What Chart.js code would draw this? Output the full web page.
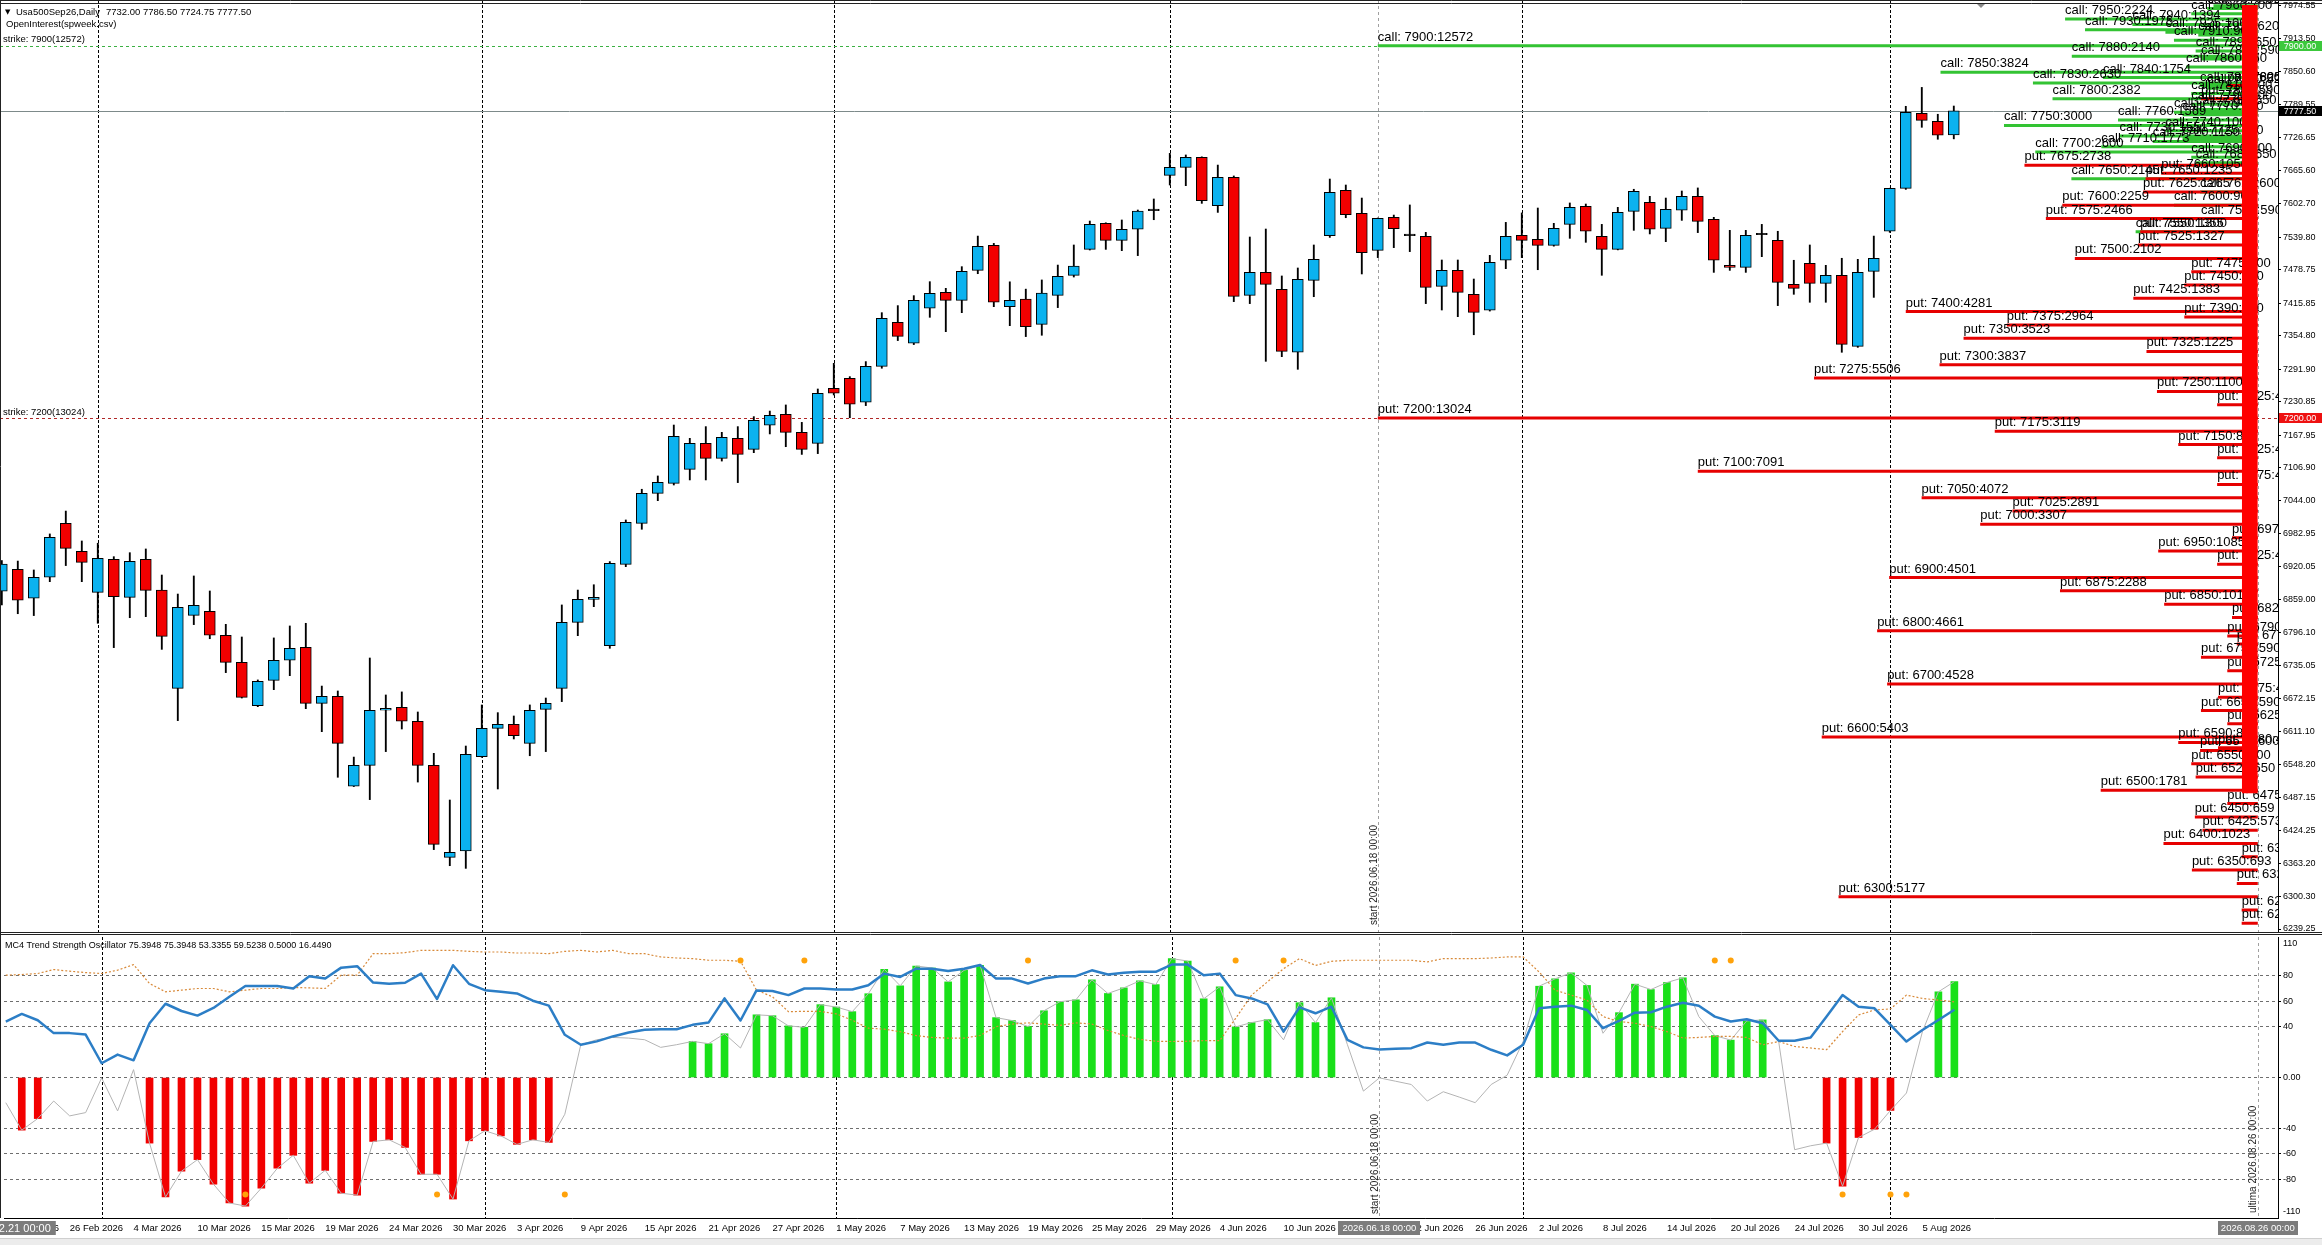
<!DOCTYPE html>
<html>
<head>
<meta charset="utf-8">
<title>Usa500Sep26 Daily - OpenInterest</title>
<script src="https://cdn.jsdelivr.net/npm/chart.js@4.4.1/dist/chart.umd.min.js"></script>
<style>
  html, body { margin:0; padding:0; background:#fff; }
  body { width:2322px; height:1245px; position:relative; overflow:hidden; }
  canvas { position:absolute; left:0; }
  #mainC { top:0; }
  #oscC { top:933px; }
  #strip { position:absolute; left:0; top:1238px; width:2322px; height:7px; background:#ececec; border-top:1px solid #cfcfcf; }
</style>
</head>
<body>
<canvas id="mainC" width="2322" height="933"></canvas>
<canvas id="oscC" width="2322" height="305"></canvas>
<div id="strip"></div>
<script>
// ---------------- DATA ----------------
const symbolName = 'Usa500Sep26,Daily';
const indicatorName = 'OpenInterest(spweek.csv)';
const oscName = 'MC4 Trend Strength Oscillator';

const opens = [6874.5,6915.5,6861,6900.5,7002,6949.25,6872.25,6934.25,6862.75,6934.25,
6876.5,6691.75,6829,6836.5,6791.5,6740.5,6659.25,6706.75,6744.5,6768.75,
6663.5,6676.75,6508,6547,6650.5,6656,6629.75,6547,6374,6386,
6563.25,6616.5,6624,6588.25,6652.25,6691.75,6815.75,6859,6772,6924.75,
7002,7058.25,7077,7103.5,7152.25,7124,7161.75,7141,7186.25,7207,
7173,7152.25,7255.75,7274.5,7229.5,7297,7379.75,7340.5,7406.25,7436.25,
7421.25,7477.5,7524.5,7409.25,7423.5,7376,7430.5,7468.25,7517,7566,
7534,7554.75,7589.75,7656.25,7671.25,7690,7599.25,7652.5,7430.5,7473.75,
7442,7323.5,7458.75,7542.75,7628,7584.75,7515.25,7577.25,7542.75,7541.5,
7447.5,7477.5,7432.5,7402.5,7496.5,7543.5,7536,7524.5,7564,7598,
7541.5,7517,7588.5,7605.5,7556.5,7590.5,7616.75,7573.5,7487,7483.25,
7544.5,7534,7451.25,7490.75,7453,7468.25,7334.75,7475.75,7551,7631.75,
7772.75,7757.75,7732];
const highs = [6932,6931,6914.25,6982,7025,6968.75,6964.5,6939.25,6946.75,6953.75,
6904.75,6869,6903,6874.75,6812,6788.25,6707.5,6786.5,6809,6814,
6696,6686.75,6562.5,6748.75,6679.25,6685,6647.25,6569.5,6481.75,6583.25,
6660.5,6646,6639.75,6660.5,6673.5,6848.5,6876.5,6886.5,6930,7008.25,
7066,7091,7186.75,7161.75,7183.75,7173,7183.75,7202.5,7213,7224.5,
7191.75,7254.5,7302.75,7277.75,7306,7398,7411.25,7430,7456.25,7443.75,
7484.5,7542,7528.25,7456,7442.25,7459.5,7487.5,7525.25,7570.25,7567,
7572.25,7591,7611.75,7697.5,7694.5,7691,7675.5,7655,7540.25,7555.25,
7467,7482,7525.25,7649.25,7638,7613.5,7576,7581.5,7600.5,7549,
7497,7497,7461.25,7505.75,7567.75,7585.5,7594.75,7566,7604.25,7602.25,
7564,7596,7630,7616.75,7613.5,7626.75,7632.5,7577.25,7552.75,7552.75,
7564,7551,7496.5,7525.25,7487,7500.25,7498.25,7542,7632,7786,
7821.5,7771,7786.5];
const lows = [6848.5,6832,6828.5,6892.25,6922.5,6892.25,6814,6768.25,6824.5,6826.5,
6765,6631,6811.5,6785,6721.25,6673.5,6657.25,6689.25,6715.5,6653.5,
6610.25,6524.5,6507,6482.5,6572.75,6615.25,6515.5,6388.5,6358.25,6353.25,
6562,6502.5,6596.5,6565,6572.75,6666.75,6790.75,6845.25,6767,6920.5,
6990.75,7044.5,7074,7083.5,7083.5,7119,7078.5,7134.75,7170,7146,
7131.5,7133,7243.25,7200.5,7223.25,7293.5,7345.5,7338,7389.25,7362.25,
7398,7471.25,7409.25,7373.5,7353,7355.5,7407.5,7465,7515.75,7517,
7514.5,7505.25,7572.75,7638,7636.75,7603.5,7586.5,7418.75,7415,7306.5,
7315.25,7291.5,7428,7539.5,7576.5,7470.75,7501.5,7520.25,7512.75,7415,
7403,7390.5,7356.5,7401,7480.75,7501.5,7478.75,7523,7537.75,7530.25,
7468.25,7516,7552.75,7546,7531.5,7571.5,7548.5,7473.75,7477.5,7473.75,
7503.25,7411.25,7432.5,7417.5,7417.5,7323.5,7332.75,7426.75,7549,7629.75,
7746.5,7724,7724.75];
const closes = [6925.5,6857.25,6900.5,6975.5,6955,6928.5,6936,6864,6930.5,6876,
6789.5,6844,6847.75,6791.5,6740.5,6674.75,6705,6744.5,6767,6663.5,
6676.75,6588.25,6547,6650.5,6654,6629.75,6547,6398.5,6383.5,6567.5,
6616.5,6624,6602.75,6650.5,6663.5,6815.75,6859,6862.75,6926.75,7003.75,
7058.25,7079,7165.5,7152.25,7124,7163.5,7131.5,7195.5,7205,7173,
7141,7246.5,7246.5,7225.75,7297,7387.5,7353.5,7421.25,7434.5,7421.25,
7475.75,7522.75,7417.5,7421.25,7371.75,7434.75,7466.25,7485.75,7564,7534,
7554.75,7589,7589.75,7671.25,7690,7608.5,7652.5,7428.75,7473.75,7451.25,
7325.25,7460.75,7498.25,7624.25,7582.25,7510.75,7575.5,7556,7542.75,7445.5,
7477.5,7436.25,7398.5,7492.5,7541.5,7534,7524.5,7556.5,7596,7551,
7517,7586.5,7626,7554.75,7592.25,7616.75,7569.75,7496.5,7483.25,7543.5,
7544.5,7455,7443.75,7453,7468.25,7338.5,7473.75,7500.25,7631.75,7774.5,
7759.5,7731.5,7777.5];

const priceTicks = [7974.55,7913.50,7850.60,7789.55,7726.65,7665.60,7602.70,7539.80,7478.75,7415.85,
7354.80,7291.90,7230.85,7167.95,7106.90,7044.00,6982.95,6920.05,6859.00,6796.10,
6735.05,6672.15,6611.10,6548.20,6487.15,6424.25,6363.20,6300.30,6239.25];

const dateIdx = [0,4,8,12,16,20,24,28,32,36,40,44,48,52,56,60,64,68,72,76,80,84,88,92,96,100,104,108,112,116,120];
const dateText = ['21 Feb 2026','26 Feb 2026','4 Mar 2026','10 Mar 2026','15 Mar 2026','19 Mar 2026','24 Mar 2026','30 Mar 2026',
'3 Apr 2026','9 Apr 2026','15 Apr 2026','21 Apr 2026','27 Apr 2026','1 May 2026','7 May 2026','13 May 2026','19 May 2026',
'25 May 2026','29 May 2026','4 Jun 2026','10 Jun 2026','16 Jun 2026','22 Jun 2026','26 Jun 2026','2 Jul 2026','8 Jul 2026',
'14 Jul 2026','20 Jul 2026','24 Jul 2026','30 Jul 2026','5 Aug 2026'];
const monthGridIdx = [6,30,52,73,95,118];
const startIdx = 86;
const ultimaIdx = 141;
const cursorIdx = 0;
const startLabel = '2026.06.18 00:00';
const ultimaLabel = '2026.08.26 00:00';
const cursorLabel = '2026.02.21 00:00';

const callStrikes = [7975,7970,7960,7950,7940,7930,7925,7920,7910,7900,
7890,7880,7875,7860,7850,7840,7830,7825,7820,7810,
7800,7790,7780,7775,7770,7760,7750,7740,7730,7725,
7720,7710,7700,7690,7680,7650,7625,7600,7575,7550];
const callOI = [450,520,700,2224,1394,1975,1000,620,900,12572,
650,2140,590,760,3824,1754,2630,600,520,700,
2382,700,650,900,800,1569,3000,1000,1551,800,
1150,1773,2600,700,650,2145,600,900,590,1355];
const putStrikes = [7825,7800,7675,7660,7650,7625,7600,7575,7550,7525,
7500,7475,7450,7425,7400,7390,7375,7350,7325,7300,
7275,7250,7225,7200,7175,7150,7125,7100,7075,7050,
7025,7000,6975,6950,6925,6900,6875,6850,6825,6800,
6790,6775,6750,6725,6700,6675,6650,6625,6600,6590,
6580,6575,6550,6525,6500,6475,6450,6425,6400,6375,
6350,6325,6300,6275,6250];
const putOI = [300,590,2738,1050,1235,1265,2259,2466,1300,1327,
2102,700,780,1383,4281,780,2964,3523,1225,3837,
5506,1100,410,13024,3119,850,410,7091,410,4072,
2891,3307,250,1085,410,4501,2288,1015,250,4661,
300,200,590,300,4528,400,590,300,5403,850,
400,600,700,650,1781,300,659,573,1023,150,
693,200,5177,150,150];
const wallRange = [6495, 7976];

const histVals = [null,-41.4,-32.3,null,null,null,null,null,null,-51.6,
-94,-73.7,-64.6,-83.9,-98.7,-101.1,-87,-71.4,-61.2,-83.1,
-73,-91,-92.5,-50.3,-49,-55,-76.1,-76.1,-95.6,-49.8,
-41.9,-45.9,-52.6,-49,-51.1,null,null,null,null,null,
null,null,null,28.4,26.6,34.4,null,49.3,48.6,40.6,
39.5,57.3,55.4,51.8,65.9,85.1,72.1,87.7,86.1,75.2,
84.3,88.2,47.1,44.8,40.1,52.5,59.6,61.1,76.8,66.1,
70.5,76,73.1,93.5,91.6,61.9,71.3,39.8,43.2,45.5,
null,58.8,43.2,62.7,null,null,null,null,null,null,
null,null,null,null,null,null,71.8,77.6,82.3,72.4,
null,51,73.4,69.2,74.7,78.4,null,33,29.4,44.5,
45.3,null,null,null,-51.6,-85.4,-47.2,-40.7,-25.9,null,
null,67.4,75.3948];
const grayVals = [-19.8,-41.4,-32.3,-18.5,-30.2,-27.6,-0.3,-26.3,6.2,-51.6,
-94,-73.7,-64.6,-83.9,-98.7,-101.1,-87,-71.4,-61.2,-83.1,
-73,-91,-92.5,-50.3,-49,-55,-76.1,-76.1,-95.6,-49.8,
-41.9,-45.9,-52.6,-49,-51.1,-28.9,25.8,29.7,31.5,31,
29.7,23.7,25.8,28.4,26.6,34.4,23.2,49.3,48.6,40.6,
39.5,57.3,55.4,51.8,65.9,85.1,72.1,87.7,86.1,75.2,
84.3,88.2,47.1,44.8,40.1,52.5,59.6,61.1,76.8,66.1,
70.5,76,73.1,93.5,91.6,61.9,71.3,39.8,43.2,45.5,
29.6,58.8,43.2,62.7,25.8,-10.7,-0.3,-2.9,-5.5,-18.5,
-11.2,-15.4,-19.8,-5.5,1.8,28.3,71.8,77.6,82.3,72.4,
34.8,51,73.4,69.2,74.7,78.4,47.9,33,29.4,44.5,
45.3,28.3,-56.8,-53.7,-51.6,-85.4,-47.2,-40.7,-25.9,-12.2,
36.1,67.4,75.3948];
const blueVals = [44,50,45,34.9,34.9,33.8,11.2,18,13.5,42.7,
58,52.3,48.7,54.7,63.5,71.9,71.9,71.9,70,79.7,
77.8,86.4,87.5,74.7,73.7,74.5,81.7,61.7,88.3,73.7,
68.7,67.4,66.1,60.4,56.5,33.6,25.8,28.4,32.3,35.4,
37.5,38,38,41.4,43.2,62.2,44.8,68.5,68,64.8,
70,70,69.2,69.2,72.6,81.7,79.1,85.6,85.6,83.8,
85.6,88.5,77.8,77.8,73.9,77.8,79.7,79.7,84.3,81,
82.3,83.1,83.1,88.8,88.8,80.4,81.7,64.8,62.2,57.5,
36.1,55.2,50.5,55.7,29.6,23.7,22.1,22.6,23.1,27.5,
25.7,27.5,27.5,21.8,17.4,25.7,54.4,55.7,56.5,53.1,
38.8,44.5,51,51.3,55.7,58.8,56.5,47.9,44,45.8,
42.7,28.9,28.9,31.5,47.9,64.8,55.7,54.4,41.4,28.3,
37.4,45.2,53.3355];
const orangeVals = [80.5,81,81.8,84.9,83.6,82.5,81.8,84.4,88.8,73.9,
67.4,68.7,70,70,67.4,68.7,70,70,70.8,70.5,
70,80.5,80.5,97.4,97.4,98.2,100,100,100,99.2,
98.7,98.7,97.9,97.9,97.4,99.2,100,98.7,100,97.4,
97.4,94.8,94,93.5,92.2,92.2,91.4,68.7,63.5,51.8,
52,52,50,45,38.8,38,36,33,31.5,31,
31,33,40,42,43,42,41,43,42,37,
33,30,28.5,28.3,28.5,29,29,46.5,64.8,75.3,
85.6,93.5,88.2,91.4,92.2,92.2,92.2,92.2,92.2,90.9,
93.5,93.5,93.5,94,94.8,94.8,83,68.7,64.8,60.9,
47.9,44,42.7,40.1,36.1,31,31.5,32.3,32.3,31.5,
25.7,28.3,24.4,23.2,21.9,36.1,49.2,53.1,53.9,64.8,
62.2,60.9,59.5238];
const sigIdx = [15,27,35,46,50,64,77,80,107,108,115,118,119];
const sigVals = [-92,-92,-92,92,92,92,92,92,92,92,-92,-92,-92];
const oscParams = [0.5, 16.449];
const oscTicks = [80,60,40,0,-40,-60,-80];
const oscRange = [-110, 110];

// ---------------- STYLE ----------------
const FONT = '"Liberation Sans", Arial, sans-serif';
const UP = '#0bb2ef', DOWN = '#f20000', CALL_C = '#33c333', PUT_C = '#e60000';
const X_MIN = -0.1125, X_MAX = 142.2625;
const Y_MIN = 6231.73, Y_MAX = 7985.83;
const OI_LEN_K = 0.010033, OI_LEN_P = 0.92;
Chart.defaults.font.family = FONT;
Chart.defaults.color = '#000';

const N = closes.length;
const idx = [...Array(N).keys()];
const lastO = opens[N-1], lastH = highs[N-1], lastL = lows[N-1], lastC = closes[N-1];

function lineStart(oi) { return Math.max(startIdx, ultimaIdx - OI_LEN_K * Math.pow(oi, OI_LEN_P)); }
function segs(strikes, ois) {
  const out = [];
  strikes.forEach((k, j) => {
    out.push({x: lineStart(ois[j]), y: k}, {x: ultimaIdx, y: k}, {x: ultimaIdx, y: null});
  });
  return out;
}
function maxBy(strikes, ois) { let m = 0; ois.forEach((v, j) => { if (v > ois[m]) m = j; }); return [strikes[m], ois[m]]; }
const [callMaxStrike, callMaxOI] = maxBy(callStrikes, callOI);
const [putMaxStrike, putMaxOI] = maxBy(putStrikes, putOI);

function vline(ctx, x, t, b) { const px = Math.round(x) + 0.5; ctx.beginPath(); ctx.moveTo(px, t); ctx.lineTo(px, b); ctx.stroke(); }
function hline(ctx, y, l, r) { const py = Math.round(y) + 0.5; ctx.beginPath(); ctx.moveTo(l, py); ctx.lineTo(r, py); ctx.stroke(); }
function rotText(ctx, text, x, yBottom) {
  ctx.save(); ctx.translate(x, yBottom); ctx.rotate(-Math.PI / 2);
  ctx.textAlign = 'left'; ctx.textBaseline = 'alphabetic'; ctx.fillText(text, 0, 0); ctx.restore();
}
function axisBox(ctx, text, cx, cy, w, h, bg) {
  ctx.fillStyle = bg; ctx.fillRect(Math.round(cx - w / 2), Math.round(cy - h / 2), w, h);
  ctx.fillStyle = '#fff'; ctx.textAlign = 'center'; ctx.textBaseline = 'middle';
  ctx.fillText(text, cx, cy + 0.5);
}

// ---------------- MAIN CHART ----------------
const mainOverlay = {
  id: 'mainOverlay',
  beforeDatasetsDraw(chart) {
    const {ctx, chartArea: a, scales: {x, y}} = chart;
    ctx.save();
    ctx.beginPath(); ctx.rect(a.left, a.top, a.right - a.left, a.bottom - a.top); ctx.clip();
    ctx.lineWidth = 1;
    ctx.strokeStyle = '#000'; ctx.setLineDash([3, 2]);
    monthGridIdx.forEach(i => vline(ctx, x.getPixelForValue(i), a.top, a.bottom));
    ctx.strokeStyle = '#a0a0a0'; ctx.setLineDash([3, 3]);
    [startIdx, ultimaIdx].forEach(i => vline(ctx, x.getPixelForValue(i), a.top, a.bottom));
    ctx.strokeStyle = '#3cb043'; ctx.setLineDash([3, 3]);
    hline(ctx, y.getPixelForValue(callMaxStrike), a.left, a.right);
    ctx.strokeStyle = '#b02828';
    hline(ctx, y.getPixelForValue(putMaxStrike), a.left, a.right);
    ctx.setLineDash([]); ctx.strokeStyle = '#7d8a8a';
    hline(ctx, y.getPixelForValue(lastC), a.left, a.right);
    ctx.restore();
  },
  afterDatasetDraw(chart, args) {
    if (chart.data.datasets[args.index].label !== 'puts') return;
    const {ctx, chartArea: a, scales: {x, y}} = chart;
    ctx.save();
    ctx.beginPath(); ctx.rect(a.left, a.top, a.right - a.left, a.bottom - a.top); ctx.clip();
    ctx.font = '13px ' + FONT; ctx.fillStyle = '#000';
    ctx.textAlign = 'left'; ctx.textBaseline = 'alphabetic';
    const draw = (kind, strikes, ois) => strikes.forEach((k, j) => {
      ctx.fillText(kind + ': ' + k + ':' + ois[j], x.getPixelForValue(lineStart(ois[j])), y.getPixelForValue(k) - 5);
    });
    draw('call', callStrikes, callOI);
    draw('put', putStrikes, putOI);
    ctx.restore();
  },
  afterDraw(chart) {
    const {ctx, chartArea: a, scales: {x, y}} = chart;
    const W = chart.width, H = chart.height;
    ctx.save();
    ctx.fillStyle = '#000'; ctx.textAlign = 'left'; ctx.textBaseline = 'middle';
    ctx.font = '7px "DejaVu Sans", sans-serif';
    ctx.fillText('\u25BC', 5, 12);
    ctx.font = '9.5px ' + FONT;
    ctx.fillText(symbolName, 16, 12);
    const sw = ctx.measureText(symbolName).width;
    ctx.fillText([lastO, lastH, lastL, lastC].map(v => v.toFixed(2)).join(' '), 16 + sw + 6, 12);
    ctx.fillText(indicatorName, 6, 24.5);
    ctx.fillText('strike: ' + callMaxStrike + '(' + callMaxOI + ')', 3, 39.5);
    ctx.fillText('strike: ' + putMaxStrike + '(' + putMaxOI + ')', 3, y.getPixelForValue(putMaxStrike) - 6);
    ctx.font = '10px ' + FONT; ctx.fillStyle = '#222';
    rotText(ctx, 'start ' + startLabel, x.getPixelForValue(startIdx) - 1, a.bottom - 8);
    ctx.fillStyle = '#8a8a8a';
    ctx.beginPath(); ctx.moveTo(1976, 3); ctx.lineTo(1986, 3); ctx.lineTo(1981, 8); ctx.closePath(); ctx.fill();
    ctx.font = '9px ' + FONT;
    axisBox(ctx, callMaxStrike.toFixed(2), a.right + 22, y.getPixelForValue(callMaxStrike), 43, 10, '#3cc83c');
    axisBox(ctx, lastC.toFixed(2), a.right + 22, y.getPixelForValue(lastC), 43, 10, '#000');
    axisBox(ctx, putMaxStrike.toFixed(2), a.right + 22, y.getPixelForValue(putMaxStrike), 43, 10, '#ee1111');
    ctx.strokeStyle = '#222'; ctx.lineWidth = 1;
    hline(ctx, 0, 0, W); hline(ctx, 3, 0, W);
    hline(ctx, H - 1, 0, W);
    vline(ctx, 0, 0, H);
    ctx.restore();
  }
};

new Chart(document.getElementById('mainC'), {
  type: 'bar',
  data: {
    datasets: [
      { label: 'wick', data: idx.map(i => ({x: i, y: [lows[i], highs[i]]})),
        backgroundColor: '#000', borderWidth: 0, barThickness: 1.2, grouped: false, order: 6 },
      { label: 'body', data: idx.map(i => ({x: i, y: [opens[i], closes[i]]})),
        backgroundColor: idx.map(i => closes[i] > opens[i] ? UP : (closes[i] < opens[i] ? DOWN : '#000')),
        borderColor: '#000', borderWidth: 1, borderSkipped: false, barThickness: 11, minBarLength: 1.5,
        grouped: false, order: 5 },
      { type: 'line', label: 'calls', data: segs(callStrikes, callOI), borderColor: CALL_C, borderWidth: 3,
        pointRadius: 0, spanGaps: false, tension: 0, borderCapStyle: 'butt', order: 4 },
      { type: 'line', label: 'puts', data: segs(putStrikes, putOI), borderColor: PUT_C, borderWidth: 3,
        pointRadius: 0, spanGaps: false, tension: 0, borderCapStyle: 'butt', order: 3 },
      { label: 'wall', data: [{x: ultimaIdx - 0.5, y: wallRange}], backgroundColor: '#ff0000',
        borderWidth: 0, barThickness: 15, grouped: false, order: 1 }
    ]
  },
  options: {
    responsive: false, animation: false, devicePixelRatio: 1, events: [],
    layout: { padding: 0 },
    plugins: { legend: { display: false }, tooltip: { enabled: false } },
    scales: {
      x: { type: 'linear', min: X_MIN, max: X_MAX, display: false, offset: false, grid: { display: false } },
      y: { type: 'linear', position: 'right', min: Y_MIN, max: Y_MAX,
        afterBuildTicks: s => { s.ticks = priceTicks.map(v => ({value: v})); },
        afterFit: s => { s.width = 44; s.paddingTop = 0; s.paddingBottom = 0; },
        ticks: { callback: v => Number(v).toFixed(2), font: { size: 9, family: FONT }, color: '#000', padding: 2, autoSkip: false },
        grid: { drawOnChartArea: false, drawTicks: true, tickLength: 3, color: '#000' },
        border: { display: true, color: '#000', width: 1 } }
    }
  },
  plugins: [mainOverlay]
});

// ---------------- OSCILLATOR ----------------
const oscOverlay = {
  id: 'oscOverlay',
  beforeDatasetsDraw(chart) {
    const {ctx, chartArea: a, scales: {x}} = chart;
    ctx.save(); ctx.lineWidth = 1;
    ctx.strokeStyle = '#000'; ctx.setLineDash([3, 2]);
    monthGridIdx.forEach(i => vline(ctx, x.getPixelForValue(i), a.top, a.bottom));
    ctx.strokeStyle = '#a0a0a0'; ctx.setLineDash([3, 3]);
    [startIdx, ultimaIdx].forEach(i => vline(ctx, x.getPixelForValue(i), a.top, a.bottom));
    ctx.restore();
  },
  afterDraw(chart) {
    const {ctx, chartArea: a, scales: {x, y}} = chart;
    const W = chart.width;
    ctx.save();
    ctx.fillStyle = '#000'; ctx.textAlign = 'left'; ctx.textBaseline = 'middle';
    ctx.font = '9px ' + FONT;
    const L = N - 1;
    const vals = [histVals[L], grayVals[L], blueVals[L], orangeVals[L], ...oscParams].map(v => v.toFixed(4));
    ctx.fillText(oscName + ' ' + vals.join(' '), 5, a.top + 9);
    ctx.fillText(String(oscRange[1]), a.right + 5, a.top + 7);
    ctx.fillText(String(oscRange[0]), a.right + 5, a.bottom - 6);
    ctx.font = '10px ' + FONT; ctx.fillStyle = '#222';
    rotText(ctx, 'start ' + startLabel, x.getPixelForValue(startIdx) - 1, a.bottom - 4);
    rotText(ctx, 'ultima ' + ultimaLabel, x.getPixelForValue(ultimaIdx) - 2, a.bottom - 5);
    ctx.font = '9.5px ' + FONT;
    const by = a.bottom + 10;
    axisBox(ctx, startLabel, x.getPixelForValue(startIdx), by, 82, 14, '#7c7c7c');
    axisBox(ctx, ultimaLabel, x.getPixelForValue(ultimaIdx), by, 80, 14, '#7c7c7c');
    ctx.fillStyle = '#7c7c7c'; ctx.fillRect(0, by - 7, x.getPixelForValue(cursorIdx) + 50, 14);
    ctx.fillStyle = '#fff'; ctx.textAlign = 'right'; ctx.textBaseline = 'middle';
    ctx.font = '11px ' + FONT;
    ctx.fillText(cursorLabel, x.getPixelForValue(cursorIdx) + 45, by + 0.5);
    ctx.strokeStyle = '#222'; ctx.lineWidth = 1;
    hline(ctx, 1, 0, W);
    vline(ctx, 0, 0, a.bottom);
    ctx.restore();
  }
};

new Chart(document.getElementById('oscC'), {
  type: 'bar',
  data: {
    datasets: [
      { label: 'hist', data: idx.map(i => ({x: i, y: histVals[i]})),
        backgroundColor: idx.map(i => (histVals[i] !== null && histVals[i] < 0) ? '#f20000' : '#19e019'),
        borderWidth: 0, barThickness: 7, grouped: false, order: 5 },
      { type: 'line', label: 'gray', data: idx.map(i => ({x: i, y: grayVals[i]})), borderColor: '#b4b4b4',
        borderWidth: 1, pointRadius: 0, tension: 0, order: 4 },
      { type: 'line', label: 'orange', data: idx.map(i => ({x: i, y: orangeVals[i]})), borderColor: '#d88a3a',
        borderWidth: 1.2, borderDash: [2, 2], pointRadius: 0, tension: 0, order: 3 },
      { type: 'line', label: 'blue', data: idx.map(i => ({x: i, y: blueVals[i]})), borderColor: '#2c7ec6',
        borderWidth: 2.5, pointRadius: 0, tension: 0, borderJoinStyle: 'round', order: 2 },
      { type: 'line', label: 'signals', data: sigIdx.map((i, j) => ({x: i, y: sigVals[j]})), showLine: false,
        pointRadius: 3, pointBackgroundColor: '#ffa20a', pointBorderWidth: 0, order: 1 }
    ]
  },
  options: {
    responsive: false, animation: false, devicePixelRatio: 1, events: [],
    layout: { padding: { top: 2, left: 0, right: 0, bottom: 0 } },
    plugins: { legend: { display: false }, tooltip: { enabled: false } },
    scales: {
      x: { type: 'linear', min: X_MIN, max: X_MAX, offset: false, position: 'bottom',
        afterBuildTicks: s => { s.ticks = dateIdx.map(v => ({value: v})); },
        afterFit: s => { s.height = 20; s.paddingLeft = 0; s.paddingRight = 0; },
        ticks: { callback: (v, i) => dateText[i], align: 'start', autoSkip: false, maxRotation: 0, minRotation: 0,
          padding: 5, font: { size: 9.5, family: FONT }, color: '#000' },
        grid: { drawOnChartArea: false, drawTicks: false },
        border: { display: true, color: '#000', width: 1 } },
      y: { type: 'linear', position: 'right', min: oscRange[0] - 0.5, max: oscRange[1] + 0.5,
        afterBuildTicks: s => { s.ticks = oscTicks.map(v => ({value: v})); },
        afterFit: s => { s.width = 44; s.paddingTop = 0; s.paddingBottom = 0; },
        ticks: { callback: v => v === 0 ? '0.00' : String(v), font: { size: 9, family: FONT }, color: '#000', padding: 2, autoSkip: false },
        grid: { drawOnChartArea: true, color: '#6e6e6e', lineWidth: 1, tickColor: '#000', tickLength: 3 },
        border: { display: true, color: '#000', width: 1, dash: [3, 3] } }
    }
  },
  plugins: [oscOverlay]
});
</script>
</body>
</html>
